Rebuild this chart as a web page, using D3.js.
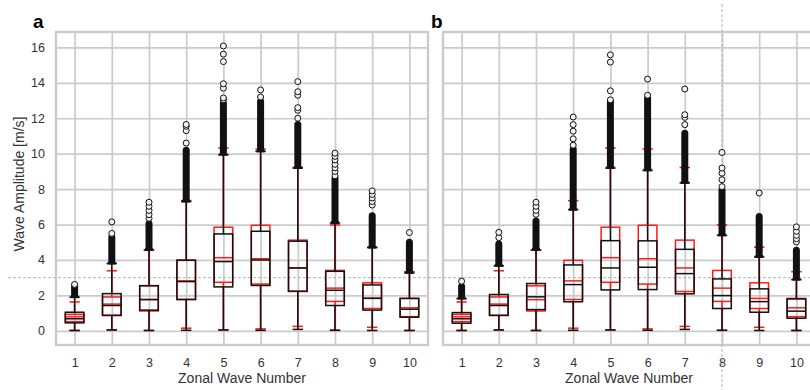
<!DOCTYPE html>
<html><head><meta charset="utf-8">
<script src="https://cdn.jsdelivr.net/npm/d3@7"></script>
<style>
body{margin:0;background:#fff;}
text{font-family:"Liberation Sans",Arial,sans-serif;}
</style></head>
<body><svg id="c" width="810" height="390"></svg>
<script>
// ---- data ----
const categories = [1,2,3,4,5,6,7,8,9,10];
const yTicks = [0,2,4,6,8,10,12,14,16];
const panelLabels = ["a","b"];

// panel a (black boxes)
const a_q1  = [0.45,0.88,1.17,1.77,2.48,2.56,2.24,1.43,1.17,0.77];
const a_med = [0.68,1.43,1.77,2.78,3.91,4.00,3.55,2.29,1.84,1.22];
const a_q3  = [1.05,2.10,2.55,3.99,5.47,5.62,5.06,3.36,2.59,1.83];
const a_lo  = [0.02,0.05,0.02,0.03,0.05,0.03,0.08,0.03,0.02,0.02];
const a_hi  = [1.90,3.80,4.57,7.30,9.94,10.13,9.19,6.09,4.70,3.27];
const a_denseTop = [2.55,5.30,6.05,10.20,12.85,12.95,11.65,8.60,6.50,5.00];
const a_outliers = [[2.62],[5.5,6.15],[6.35,6.56,6.8,7.03,7.26],[10.6,11.3,11.55,11.65],
  [13.05,13.15,13.7,13.95,15.2,15.62,16.08],[13.2,13.6],[12.0,12.45,12.6,13.3,13.5,14.07],
  [8.75,9.0,9.2,9.4,9.65,9.85,10.03],[7.1,7.3,7.5,7.7,7.9],[5.55]];

// panel b (black boxes)
const b_q1  = [0.43,0.88,1.20,1.64,2.31,2.33,2.09,1.26,1.05,0.71];
const b_med = [0.68,1.43,1.92,2.61,3.55,3.59,3.23,1.99,1.65,1.11];
const b_q3  = [1.03,2.05,2.67,3.72,5.09,5.08,4.60,2.93,2.37,1.80];
const b_lo  = [0.02,0.05,0.02,0.03,0.05,0.03,0.08,0.03,0.02,0.02];
const b_hi  = [1.82,3.67,4.57,6.84,9.19,9.06,8.35,5.39,4.17,2.89];
const b_denseTop = [2.50,4.90,6.20,10.25,12.95,13.15,11.15,7.95,6.45,4.55];
const b_outliers = [[2.80],[5.26,5.56],[6.58,6.8,7.03,7.26],[10.48,10.84,11.27,11.64,12.07],
  [13.04,13.55,15.17,15.58],[13.3,14.21],[11.64,12.05,12.2,13.65],
  [8.14,8.53,8.9,9.19,10.07],[7.78],[5.02,5.2,5.39,5.62,5.87]];

// reference (red boxes, same in both panels)
const r_q1  = [0.52,0.86,1.12,1.77,2.74,2.64,2.22,1.66,1.26,0.80];
const r_med = [0.79,1.51,1.76,2.82,4.13,4.07,3.55,2.41,1.83,1.30];
const r_q3  = [0.93,1.91,2.54,3.98,5.85,5.96,5.12,3.41,2.71,1.83];
const r_lo  = [0.02,0.05,0.02,0.15,0.05,0.11,0.25,0.03,0.20,0.02];
const r_hi  = [1.63,3.39,4.56,7.35,10.32,10.26,9.22,5.98,4.72,3.34];

// ---- layout ----
const svg = d3.select("#c");
const y = d3.scaleLinear().domain([-0.8,16.87]).range([345,32]);
const panels = [
  {label:"a", x:d3.scaleLinear().domain([0.5,10.5]).range([56,428]), q1:a_q1, med:a_med, q3:a_q3, lo:a_lo, hi:a_hi, dense:a_denseTop, out:a_outliers, yLabels:true},
  {label:"b", x:d3.scaleLinear().domain([0.5,10.5]).range([443,815]), q1:b_q1, med:b_med, q3:b_q3, lo:b_lo, hi:b_hi, dense:b_denseTop, out:b_outliers, yLabels:false}
];
const red = {q1:r_q1, med:r_med, q3:r_q3, lo:r_lo, hi:r_hi};
const gridCol = "#cbcbcb";

panels.forEach(p => {
  const [x0,x1] = p.x.range();
  const g = svg.append("g");
  g.append("rect").attr("x",x0).attr("y",32).attr("width",x1-x0).attr("height",313)
    .attr("fill","none").attr("stroke",gridCol).attr("stroke-width",2.4);
  const ya = g.append("g").attr("transform",`translate(${x0},0)`)
    .call(d3.axisLeft(y).tickValues(yTicks).tickSize(-(x1-x0)).tickPadding(11).tickFormat(p.yLabels? d3.format("d") : ()=>""));
  ya.select(".domain").remove();
  ya.selectAll("line").attr("stroke",gridCol).attr("stroke-width",1.7);
  ya.selectAll("text").attr("fill","#333").style("font-size","12.5px");
  const xa = g.append("g").attr("transform",`translate(0,345)`)
    .call(d3.axisBottom(p.x).tickValues(categories).tickSize(-313).tickPadding(13).tickFormat(d3.format("d")));
  xa.select(".domain").remove();
  xa.selectAll("line").attr("stroke",gridCol).attr("stroke-width",1.7);
  xa.selectAll("text").attr("fill","#333").style("font-size","12.5px");
  g.append("text").attr("x",(x0+Math.min(x1,815))/2).attr("y",383)
    .attr("text-anchor","middle").attr("fill","#333").style("font-size","14px").text("Zonal Wave Number");
  g.append("text").attr("x",p.label==="a"?33:431).attr("y",28).attr("font-weight","bold")
    .style("font-size","19px").attr("fill","#000").text(p.label);
});

svg.append("line").attr("x1",8).attr("x2",810).attr("y1",y(3)).attr("y2",y(3))
  .attr("stroke","#aaa").attr("stroke-width",0.9).attr("stroke-dasharray","3,2");
svg.append("line").attr("x1",panels[1].x(8)).attr("x2",panels[1].x(8)).attr("y1",4).attr("y2",390)
  .attr("stroke","#aaa").attr("stroke-width",0.9).attr("stroke-dasharray","3,2");

function drawBoxes(p, s, color, sw) {
  const g = svg.append("g");
  const bw = p.x(1.0)-p.x(0.5);
  const cw = p.x(0.78)-p.x(0.5);
  categories.forEach((c,i) => {
    const cx = p.x(c);
    g.append("line").attr("x1",cx).attr("x2",cx).attr("y1",y(s.q3[i])).attr("y2",y(s.hi[i]))
      .attr("stroke",color).attr("stroke-width",sw);
    g.append("line").attr("x1",cx).attr("x2",cx).attr("y1",y(s.q1[i])).attr("y2",y(s.lo[i]))
      .attr("stroke",color).attr("stroke-width",sw);
    [s.hi[i], s.lo[i]].forEach(v => g.append("line").attr("x1",cx-cw/2).attr("x2",cx+cw/2)
      .attr("y1",y(v)).attr("y2",y(v)).attr("stroke",color).attr("stroke-width",sw));
    g.append("rect").attr("x",cx-bw/2).attr("width",bw).attr("y",y(s.q3[i])).attr("height",y(s.q1[i])-y(s.q3[i]))
      .attr("fill","none").attr("stroke",color).attr("stroke-width",sw);
    g.append("line").attr("x1",cx-bw/2).attr("x2",cx+bw/2).attr("y1",y(s.med[i])).attr("y2",y(s.med[i]))
      .attr("stroke",color).attr("stroke-width",sw);
  });
}

panels.forEach(p => {
  drawBoxes(p, red, "#ff1a1a", 1.5);
  drawBoxes(p, p, "#111", 1.5);
  const g = svg.append("g");
  categories.forEach((c,i) => {
    const cx = p.x(c);
    g.append("rect").attr("x",cx-3.5).attr("width",7).attr("rx",3.5)
      .attr("y",y(p.dense[i])-3.5).attr("height",y(p.hi[i])-y(p.dense[i])+3.5)
      .attr("fill","#111");
    g.append("rect").attr("x",cx-4).attr("width",8).attr("y",y(p.hi[i])-2).attr("height",3).attr("fill","#111");
    p.out[i].forEach(v => g.append("circle").attr("cx",cx).attr("cy",y(v)).attr("r",3)
      .attr("fill","#f2f2f2").attr("stroke","#111").attr("stroke-width",1));
  });
});

svg.append("text").attr("transform","translate(24,184) rotate(-90)").attr("text-anchor","middle")
  .attr("fill","#333").style("font-size","14px").text("Wave Amplitude [m/s]");
</script></body></html>
